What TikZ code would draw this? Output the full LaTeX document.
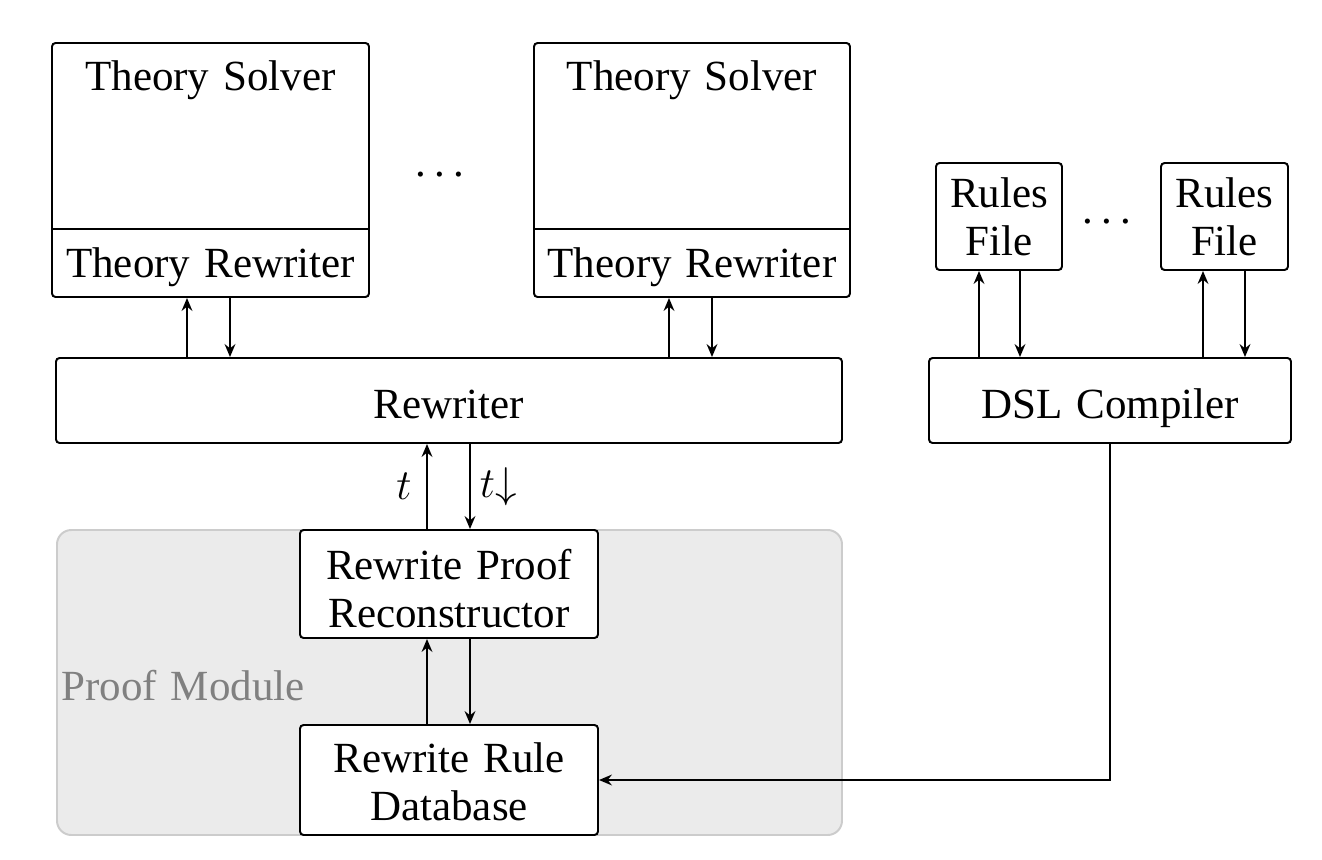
\documentclass[tikz,border=0pt]{standalone}
\usepackage{fontspec}
\setmainfont[WordSpace=1.3]{Liberation Serif}
\usetikzlibrary{arrows.meta}
\def\U{0.279pt}
\newcommand\mydots{.\kern2.2pt.\kern2.2pt.}
\tikzset{
  box/.style={draw, line width=0.55pt, rounded corners=1pt, fill=white, inner sep=0pt},
  txt/.style={inner sep=0pt, align=center, font=\fontsize{12}{13.3}\selectfont},
  arr/.style={line width=0.55pt, -{Stealth[length=3.6pt,width=3pt]}},
  line/.style={line width=0.55pt},
  module/.style={draw=black!20, fill=black!8, line width=0.55pt, rounded corners=4pt, inner sep=0pt}
}
\begin{document}
\begin{tikzpicture}[x=0.279pt, y=-0.279pt]
\useasboundingbox (0,0) rectangle (1322,860);
% proof module background
\node[module, minimum width=785*\U, minimum height=305*\U] (pm) at (449.5,682.5) {};
\node[txt, text=black!50, anchor=base] (pmlabel) at (183,700) {Proof Module};
% theory solvers
\node[box, minimum width=317*\U, minimum height=254*\U] (ts1) at (210.5,170) {};
\node[box, minimum width=316*\U, minimum height=254*\U] (ts2) at (692,170) {};
\draw[line] (ts1.west |- 0,229) -- (ts1.east |- 0,229);
\draw[line] (ts2.west |- 0,229) -- (ts2.east |- 0,229);
\node[txt, anchor=base] (ts1a) at (210.5,90) {Theory Solver};
\node[txt, anchor=base] (ts1b) at (210.5,277) {Theory Rewriter};
\node[txt, anchor=base] (ts2a) at (692,90) {Theory Solver};
\node[txt, anchor=base] (ts2b) at (692,277) {Theory Rewriter};
\node[txt, anchor=base] (dots1) at (440,176) {\mydots};
% rules files
\node[box, minimum width=126*\U, minimum height=107*\U] (rf1) at (999,216.5) {};
\node[box, minimum width=127*\U, minimum height=107*\U] (rf2) at (1224.5,216.5) {};
\node[txt, anchor=base] (rf1t) at (999,255) {Rules\\File};
\node[txt, anchor=base] (rf2t) at (1224.5,255) {Rules\\File};
\node[txt, anchor=base] (dots2) at (1107,223) {\mydots};
% rewriter and compiler
\node[box, minimum width=786*\U, minimum height=85*\U] (rw) at (449,400.5) {};
\node[txt, anchor=base] (rwt) at (449,418) {Rewriter};
\node[box, minimum width=362*\U, minimum height=85*\U] (dsl) at (1110,400.5) {};
\node[txt, anchor=base] (dslt) at (1110,418) {DSL Compiler};
% proof module boxes
\node[box, minimum width=298*\U, minimum height=108*\U] (rpr) at (449,584) {};
\node[txt, anchor=base] (rprt) at (449,627) {Rewrite Proof\\Reconstructor};
\node[box, minimum width=298*\U, minimum height=110*\U] (rrd) at (449,780) {};
\node[txt, anchor=base] (rrdt) at (449,820) {Rewrite Rule\\Database};
% arrows
\draw[arr] (187,0 |- rw.north) -- (187,0 |- ts1.south);
\draw[arr] (230,0 |- ts1.south) -- (230,0 |- rw.north);
\draw[arr] (669,0 |- rw.north) -- (669,0 |- ts2.south);
\draw[arr] (712,0 |- ts2.south) -- (712,0 |- rw.north);
\draw[arr] (979,0 |- dsl.north) -- (979,0 |- rf1.south);
\draw[arr] (1020,0 |- rf1.south) -- (1020,0 |- dsl.north);
\draw[arr] (1203,0 |- dsl.north) -- (1203,0 |- rf2.south);
\draw[arr] (1245,0 |- rf2.south) -- (1245,0 |- dsl.north);
\draw[arr] (427,0 |- rpr.north) -- node[txt, left=4pt] (tlab) {$t$} (427,0 |- rw.south);
\draw[arr] (470,0 |- rw.south) -- node[txt, right=2.5pt] (tdlab) {$t{\downarrow}$} (470,0 |- rpr.north);
\draw[arr] (427,0 |- rrd.north) -- (427,0 |- rpr.south);
\draw[arr] (470,0 |- rpr.south) -- (470,0 |- rrd.north);
\draw[arr] (dsl.south) |- (rrd.east);
\end{tikzpicture}
\end{document}
